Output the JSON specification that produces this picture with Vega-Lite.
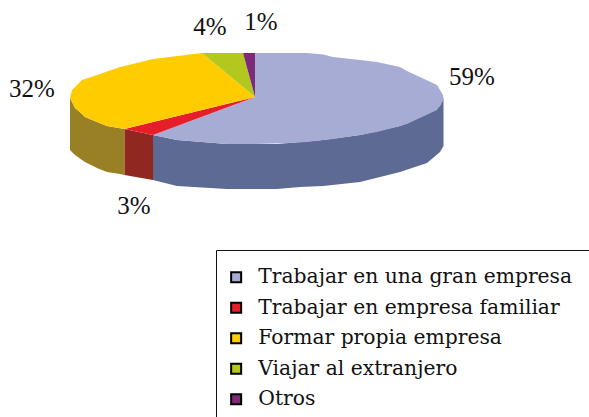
{"$schema":"https://vega.github.io/schema/vega-lite/v6.json","width":589,"height":417,"padding":0,"autosize":{"type":"none"},"background":"white","config":{"view":{"stroke":null},"font":"DejaVu Serif"},
"datasets":{
"side":[
{"serie":"Formar propia empresa","x":70,"a":98,"b":150},{"serie":"Formar propia empresa","x":75,"a":108,"b":155},{"serie":"Formar propia empresa","x":82,"a":114,"b":160},{"serie":"Formar propia empresa","x":85,"a":117,"b":162},{"serie":"Formar propia empresa","x":97,"a":122,"b":168},{"serie":"Formar propia empresa","x":107,"a":126,"b":172},{"serie":"Formar propia empresa","x":120,"a":128.3,"b":174},{"serie":"Formar propia empresa","x":124.5,"a":129,"b":175},
{"serie":"Trabajar en empresa familiar","x":124.5,"a":129,"b":175},{"serie":"Trabajar en empresa familiar","x":153,"a":135,"b":180},
{"serie":"Trabajar en una gran empresa","x":153,"a":135,"b":180},{"serie":"Trabajar en una gran empresa","x":177,"a":140,"b":186},{"serie":"Trabajar en una gran empresa","x":227,"a":144,"b":189},{"serie":"Trabajar en una gran empresa","x":277,"a":144,"b":189},{"serie":"Trabajar en una gran empresa","x":300,"a":142,"b":187},{"serie":"Trabajar en una gran empresa","x":323,"a":140,"b":186},{"serie":"Trabajar en una gran empresa","x":360,"a":135,"b":182},{"serie":"Trabajar en una gran empresa","x":400,"a":126,"b":172},{"serie":"Trabajar en una gran empresa","x":427,"a":114,"b":163},{"serie":"Trabajar en una gran empresa","x":440,"a":106,"b":152},{"serie":"Trabajar en una gran empresa","x":443.5,"a":98,"b":146}
],
"top":[
{"serie":"Trabajar en una gran empresa","x":153,"a":135,"b":135},{"serie":"Trabajar en una gran empresa","x":177,"a":126,"b":140},{"serie":"Trabajar en una gran empresa","x":227,"a":107.4,"b":144},{"serie":"Trabajar en una gran empresa","x":254.9,"a":97,"b":144},{"serie":"Trabajar en una gran empresa","x":255,"a":53,"b":144},{"serie":"Trabajar en una gran empresa","x":290,"a":53,"b":143},{"serie":"Trabajar en una gran empresa","x":307,"a":53,"b":142},{"serie":"Trabajar en una gran empresa","x":323,"a":54.5,"b":140},{"serie":"Trabajar en una gran empresa","x":333,"a":57,"b":139},{"serie":"Trabajar en una gran empresa","x":360,"a":60,"b":135},{"serie":"Trabajar en una gran empresa","x":377,"a":62,"b":132},{"serie":"Trabajar en una gran empresa","x":400,"a":67,"b":126},{"serie":"Trabajar en una gran empresa","x":407,"a":71,"b":124},{"serie":"Trabajar en una gran empresa","x":437,"a":85,"b":110},{"serie":"Trabajar en una gran empresa","x":443,"a":95,"b":101},{"serie":"Trabajar en una gran empresa","x":443.5,"a":98,"b":98},
{"serie":"Trabajar en empresa familiar","x":124.5,"a":129,"b":129},{"serie":"Trabajar en empresa familiar","x":153,"a":122,"b":135},{"serie":"Trabajar en empresa familiar","x":255,"a":97,"b":97},
{"serie":"Formar propia empresa","x":70,"a":98,"b":98},{"serie":"Formar propia empresa","x":72,"a":90,"b":102},{"serie":"Formar propia empresa","x":75,"a":87,"b":108},{"serie":"Formar propia empresa","x":82,"a":80,"b":114},{"serie":"Formar propia empresa","x":85,"a":79,"b":117},{"serie":"Formar propia empresa","x":97,"a":75,"b":122},{"serie":"Formar propia empresa","x":107,"a":71.5,"b":126},{"serie":"Formar propia empresa","x":120,"a":67,"b":128.3},{"serie":"Formar propia empresa","x":124.5,"a":66,"b":129},{"serie":"Formar propia empresa","x":153,"a":59,"b":122},{"serie":"Formar propia empresa","x":202,"a":53,"b":110},{"serie":"Formar propia empresa","x":255,"a":97,"b":97},
{"serie":"Viajar al extranjero","x":202,"a":53,"b":53},{"serie":"Viajar al extranjero","x":243,"a":53,"b":87},{"serie":"Viajar al extranjero","x":255,"a":97,"b":97},
{"serie":"Otros","x":243,"a":53,"b":53},{"serie":"Otros","x":255,"a":53,"b":97}
],
"labels":[
{"x":472,"y":77,"label":"59%"},{"x":32,"y":89,"label":"32%"},{"x":210,"y":27,"label":"4%"},{"x":261,"y":22,"label":"1%"},{"x":134,"y":206,"label":"3%"}
]},
"layer":[
{"data":{"name":"side"},"mark":{"type":"area","interpolate":"linear"},"encoding":{
"x":{"field":"x","type":"quantitative","scale":{"domain":[0,589]},"axis":null},
"y":{"field":"a","type":"quantitative","scale":{"domain":[417,0]},"axis":null},
"y2":{"field":"b"},
"color":{"field":"serie","type":"nominal","legend":null,"scale":{"domain":["Trabajar en una gran empresa","Trabajar en empresa familiar","Formar propia empresa"],"range":["#5C6A94","#902820","#9A8025"]}}}},
{"data":{"name":"top"},"mark":{"type":"area","interpolate":"linear"},"encoding":{
"x":{"field":"x","type":"quantitative","scale":{"domain":[0,589]},"axis":null},
"y":{"field":"a","type":"quantitative","scale":{"domain":[417,0]},"axis":null},
"y2":{"field":"b"},
"color":{"field":"serie","type":"nominal","title":null,"scale":{"domain":["Trabajar en una gran empresa","Trabajar en empresa familiar","Formar propia empresa","Viajar al extranjero","Otros"],"range":["#A6ACD4","#E61E2A","#FFCC00","#B2C81E","#7D2A78"]},
"legend":{"orient":"none","legendX":216,"legendY":250,"padding":17,"strokeColor":"#111","fillColor":"white","symbolType":"square","symbolSize":100,"symbolStrokeColor":"black","symbolStrokeWidth":2,"symbolOpacity":1,"symbolOffset":-7,"labelFont":"DejaVu Serif","labelFontSize":20.3,"labelColor":"#111","rowPadding":9.5,"labelLimit":500,"labelOffset":12}}}},
{"data":{"name":"labels"},"mark":{"type":"text","font":"Liberation Serif","fontSize":25,"color":"#111","align":"center","baseline":"middle"},"encoding":{
"x":{"field":"x","type":"quantitative","scale":{"domain":[0,589]},"axis":null},
"y":{"field":"y","type":"quantitative","scale":{"domain":[417,0]},"axis":null},
"text":{"field":"label","type":"nominal"}}}
],
"resolve":{"scale":{"color":"independent"}}}
